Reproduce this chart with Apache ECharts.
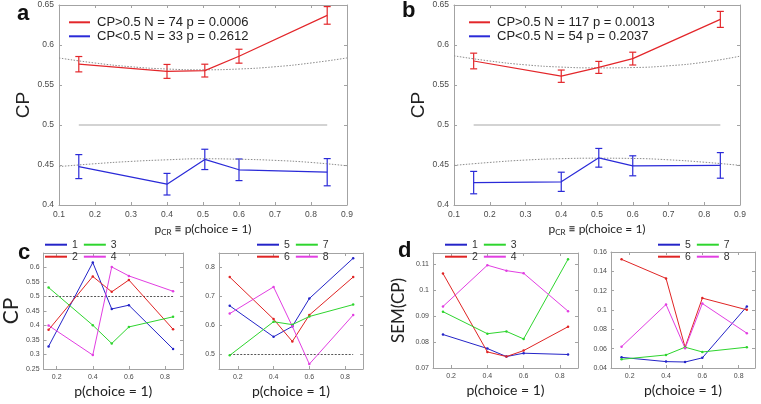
<!DOCTYPE html>
<html><head><meta charset="utf-8">
<script src="https://cdn.jsdelivr.net/npm/echarts@6/dist/echarts.min.js"></script>
<style>html,body{margin:0;padding:0;background:#fff}#c{width:761px;height:404px}</style>
</head><body><div id="c"></div>
<script>
// ---------- data ----------
const pChoice = [0.155, 0.4, 0.505, 0.6, 0.845];
const fitX = [0.1, 0.2, 0.3, 0.4, 0.5, 0.6, 0.7, 0.8, 0.9];
const refX = [0.155, 0.845];
const refY = [0.5, 0.5];

const aNames = ['CP>0.5 N = 74 p = 0.0006', 'CP<0.5 N = 33 p = 0.2612'];
const aHigh = [0.576, 0.567, 0.568, 0.586, 0.637];
const aHighErr = [0.0096, 0.0087, 0.0080, 0.0087, 0.0110];
const aLow = [0.448, 0.426, 0.457, 0.444, 0.441];
const aLowErr = [0.0150, 0.0135, 0.0127, 0.0135, 0.0170];
const aHighFit = [0.5838, 0.5775, 0.5728, 0.5700, 0.5690, 0.5700, 0.5728, 0.5775, 0.5838];
const aLowFit = [0.4480, 0.4516, 0.4545, 0.4565, 0.4578, 0.4572, 0.4558, 0.4532, 0.4490];

const bNames = ['CP>0.5 N = 117 p = 0.0013', 'CP<0.5 N = 54 p = 0.2037'];
const bHigh = [0.580, 0.561, 0.572, 0.583, 0.632];
const bHighErr = [0.0098, 0.0077, 0.0075, 0.0080, 0.0100];
const bLow = [0.428, 0.429, 0.459, 0.449, 0.4495];
const bLowErr = [0.0140, 0.0120, 0.0117, 0.0125, 0.0160];
const bHighFit = [0.5865, 0.5800, 0.5752, 0.5724, 0.5714, 0.5718, 0.5740, 0.5785, 0.5860];
const bLowFit = [0.4495, 0.4532, 0.4562, 0.4579, 0.4585, 0.4582, 0.4565, 0.4535, 0.4495];

// panel c (CP per group)
const cp1 = [0.328, 0.617, 0.457, 0.470, 0.319];
const cp2 = [0.385, 0.569, 0.516, 0.557, 0.387];
const cp3 = [0.531, 0.401, 0.338, 0.395, 0.430];
const cp4 = [0.400, 0.298, 0.602, 0.571, 0.518];
const cp5 = [0.668, 0.561, 0.597, 0.693, 0.832];
const cp6 = [0.767, 0.622, 0.545, 0.636, 0.767];
const cp7 = [0.497, 0.613, 0.603, 0.631, 0.672];
const cp8 = [0.641, 0.733, 0.597, 0.467, 0.636];

// panel d (SEM of CP per group)
const sem1 = [0.0829, 0.0775, 0.0744, 0.0757, 0.0752];
const sem2 = [0.1064, 0.0762, 0.0744, 0.0767, 0.0859];
const sem3 = [0.0917, 0.0832, 0.0841, 0.0812, 0.1119];
const sem4 = [0.0937, 0.1096, 0.1075, 0.1065, 0.0919];
const sem5 = [0.0510, 0.0466, 0.0462, 0.0505, 0.1036];
const sem6 = [0.1524, 0.1327, 0.0615, 0.1123, 0.1002];
const sem7 = [0.0490, 0.0535, 0.0615, 0.0566, 0.0615];
const sem8 = [0.0621, 0.1057, 0.0604, 0.1067, 0.0760];

const groupNames = ['1', '2', '3', '4', '5', '6', '7', '8'];

// ---------- styles ----------
const RED = '#e3262a', BLUE = '#2a2ad8';
const GCOL = ['#2424c8', '#e02424', '#2ed52e', '#e23ee2'];
const AX = '#a3a3a3';
const TICKF = 'Liberation Sans';
const TITLEF = 'Lato';

const grids = [], xAxes = [], yAxes = [], series = [], legends = [];

function axisBase(pos, lab) {
  return {
    type: 'value', position: pos,
    axisLine: {show: true, onZero: false, lineStyle: {color: AX, width: 1}},
    axisTick: {show: true, inside: true, length: 3, lineStyle: {color: AX}},
    splitLine: {show: false},
    axisLabel: Object.assign({show: !!lab, color: '#4a4a4a', fontFamily: TICKF}, lab || {}),
  };
}
function addPanel(rect, xa, ya, xLab, yLab) {
  const g = grids.length;
  grids.push(Object.assign({containLabel: false}, rect));
  const xi = xAxes.length, yi = yAxes.length;
  xAxes.push(Object.assign(axisBase('bottom', xLab), {gridIndex: g}, xa));
  const xt = Object.assign(axisBase('top', null), {gridIndex: g}, xa);
  delete xt.name;
  xAxes.push(xt);
  yAxes.push(Object.assign(axisBase('left', yLab), {gridIndex: g}, ya));
  const yr = Object.assign(axisBase('right', null), {gridIndex: g}, ya);
  delete yr.name;
  yAxes.push(yr);
  return {xi, yi};
}
function pts(xs, ys) { return xs.map((x, i) => [x, ys[i]]); }

function errRender(params, api) {
  const x = api.value(0), y = api.value(1), e = api.value(2);
  const t = api.coord([x, y + e]), b = api.coord([x, y - e]);
  const w = 3.5;
  const st = {stroke: api.visual('color'), lineWidth: 1.2};
  return {type: 'group', children: [
    {type: 'line', shape: {x1: t[0], y1: t[1], x2: b[0], y2: b[1]}, style: st},
    {type: 'line', shape: {x1: t[0] - w, y1: t[1], x2: t[0] + w, y2: t[1]}, style: st},
    {type: 'line', shape: {x1: b[0] - w, y1: b[1], x2: b[0] + w, y2: b[1]}, style: st},
  ]};
}

function topPanel(rect, names, hi, hiE, lo, loE, hiFit, loFit, legendLeft) {
  const p = addPanel(rect,
    {min: 0.1, max: 0.9, interval: 0.1,
     name: '{p|p}{s|CR}{p| \u2261 p(choice = 1)}', nameLocation: 'middle', nameGap: 17,
     nameTextStyle: {rich: {p: {fontSize: 12, fontFamily: TITLEF, color: '#222'},
                            s: {fontSize: 8, fontFamily: TITLEF, color: '#222', padding: [6, 0, 0, 0]}}}},
    {min: 0.4, max: 0.65, interval: 0.05, name: 'CP', nameLocation: 'middle', nameGap: 22,
     nameTextStyle: {fontSize: 19, color: '#222', fontFamily: 'Liberation Sans'}},
    {fontSize: 8.5, margin: 5}, {fontSize: 8.5, margin: 5});
  const base = {xAxisIndex: p.xi, yAxisIndex: p.yi, silent: true};
  series.push(Object.assign({type: 'line', data: pts(refX, refY), symbol: 'none',
    lineStyle: {color: '#c4c4c4', width: 1.5}}, base));
  series.push(Object.assign({type: 'line', data: pts(fitX, hiFit), symbol: 'none', smooth: true,
    lineStyle: {color: '#8c8c8c', width: 1, type: [1.5, 1.5]}}, base));
  series.push(Object.assign({type: 'line', data: pts(fitX, loFit), symbol: 'none', smooth: true,
    lineStyle: {color: '#8c8c8c', width: 1, type: [1.5, 1.5]}}, base));
  series.push(Object.assign({type: 'line', name: names[0], data: pts(pChoice, hi), symbol: 'none',
    color: RED, lineStyle: {color: RED, width: 1.2}}, base));
  series.push(Object.assign({type: 'line', name: names[1], data: pts(pChoice, lo), symbol: 'none',
    color: BLUE, lineStyle: {color: BLUE, width: 1.2}}, base));
  series.push(Object.assign({type: 'custom', name: names[0], renderItem: errRender,
    itemStyle: {color: RED}, data: pChoice.map((x, i) => [x, hi[i], hiE[i]])}, base));
  series.push(Object.assign({type: 'custom', name: names[1], renderItem: errRender,
    itemStyle: {color: BLUE}, data: pChoice.map((x, i) => [x, lo[i], loE[i]])}, base));
  legends.push({data: names, orient: 'vertical', left: legendLeft, top: 15.3, padding: 0,
    itemGap: 0, itemWidth: 21, itemHeight: 2, icon: 'rect',
    textStyle: {fontSize: 13, lineHeight: 14, color: '#222', fontFamily: 'Liberation Sans', padding: [0, 0, 0, 2]}});
}

topPanel({left: 59, top: 5, width: 288, height: 200}, aNames, aHigh, aHighErr, aLow, aLowErr, aHighFit, aLowFit, 69);
topPanel({left: 454, top: 5, width: 286, height: 200}, bNames, bHigh, bHighErr, bLow, bLowErr, bHighFit, bLowFit, 469);

function smallPanel(rect, xr, ya, yLab, yName, yGap, groups, names, refLine, legLeft) {
  const yNameOpt = yName ? {name: yName, nameLocation: 'middle', nameGap: yGap,
      nameTextStyle: {fontSize: yName === 'CP' ? 21 : 17, fontFamily: TITLEF, color: '#222'}} : {};
  const p = addPanel(rect,
    {min: xr[0], max: xr[1], splitNumber: 4,
     name: 'p(choice = 1)', nameLocation: 'middle', nameGap: 15,
     nameTextStyle: {fontSize: 14, fontFamily: TITLEF, color: '#222'}},
    Object.assign({}, ya, yNameOpt),
    {fontSize: 7, margin: 5, showMinLabel: false, showMaxLabel: false},
    Object.assign({fontSize: 7, margin: 4}, yLab));
  const base = {xAxisIndex: p.xi, yAxisIndex: p.yi, silent: true};
  if (refLine) {
    series.push(Object.assign({type: 'line', data: pts(refX, refY), symbol: 'none',
      lineStyle: {color: '#555', width: 1, type: [2, 1.5]}}, base));
  }
  groups.forEach((g, i) => {
    series.push(Object.assign({type: 'line', name: names[i], data: pts(pChoice, g),
      symbol: 'circle', symbolSize: 2.5, color: GCOL[i],
      itemStyle: {color: GCOL[i]}, lineStyle: {color: GCOL[i], width: 1}}, base));
  });
  const lcommon = {orient: 'horizontal', padding: 0, itemGap: 6, itemWidth: 22, itemHeight: 2, icon: 'rect',
    textStyle: {fontSize: 10.5, lineHeight: 12, color: '#333', fontFamily: 'Liberation Sans'}};
  legends.push(Object.assign({data: [names[0], names[2]], left: legLeft, top: 238.7}, lcommon));
  legends.push(Object.assign({data: [names[1], names[3]], left: legLeft, top: 250.7}, lcommon));
}

smallPanel({left: 42, top: 253, width: 141, height: 116}, [0.127, 0.9],
  {min: 0.25, max: 0.65, interval: 0.05}, {showMaxLabel: false}, 'CP', 17,
  [cp1, cp2, cp3, cp4], groupNames.slice(0, 4), true, 45);
smallPanel({left: 219, top: 253, width: 144, height: 116}, [0.095, 0.9],
  {min: 0.45, max: 0.85, splitNumber: 4}, {showMinLabel: false, showMaxLabel: false}, null, 0,
  [cp5, cp6, cp7, cp8], groupNames.slice(4, 8), true, 257);
smallPanel({left: 433, top: 253, width: 145, height: 115}, [0.1, 0.9],
  {min: 0.07, max: 0.1143, interval: 0.01}, {showMaxLabel: false}, 'SEM(CP)', 26,
  [sem1, sem2, sem3, sem4], groupNames.slice(0, 4), false, 445);
smallPanel({left: 611, top: 252, width: 144, height: 116}, [0.097, 0.89],
  {min: 0.04, max: 0.16, interval: 0.02}, {}, null, 0,
  [sem5, sem6, sem7, sem8], groupNames.slice(4, 8), false, 658);

const letters = [['a', 17, 3], ['b', 402, 0], ['c', 18, 242], ['d', 398, 240]];

const chart = echarts.init(document.getElementById('c'), null, {renderer: 'canvas'});
chart.setOption({
  animation: false,
  backgroundColor: '#fff',
  grid: grids, xAxis: xAxes, yAxis: yAxes, series: series, legend: legends,
  graphic: letters.map(l => ({type: 'text', left: l[1], top: l[2],
    style: {text: l[0], font: 'bold 22px "Liberation Sans"', fill: '#111'}}))
});
</script></body></html>
